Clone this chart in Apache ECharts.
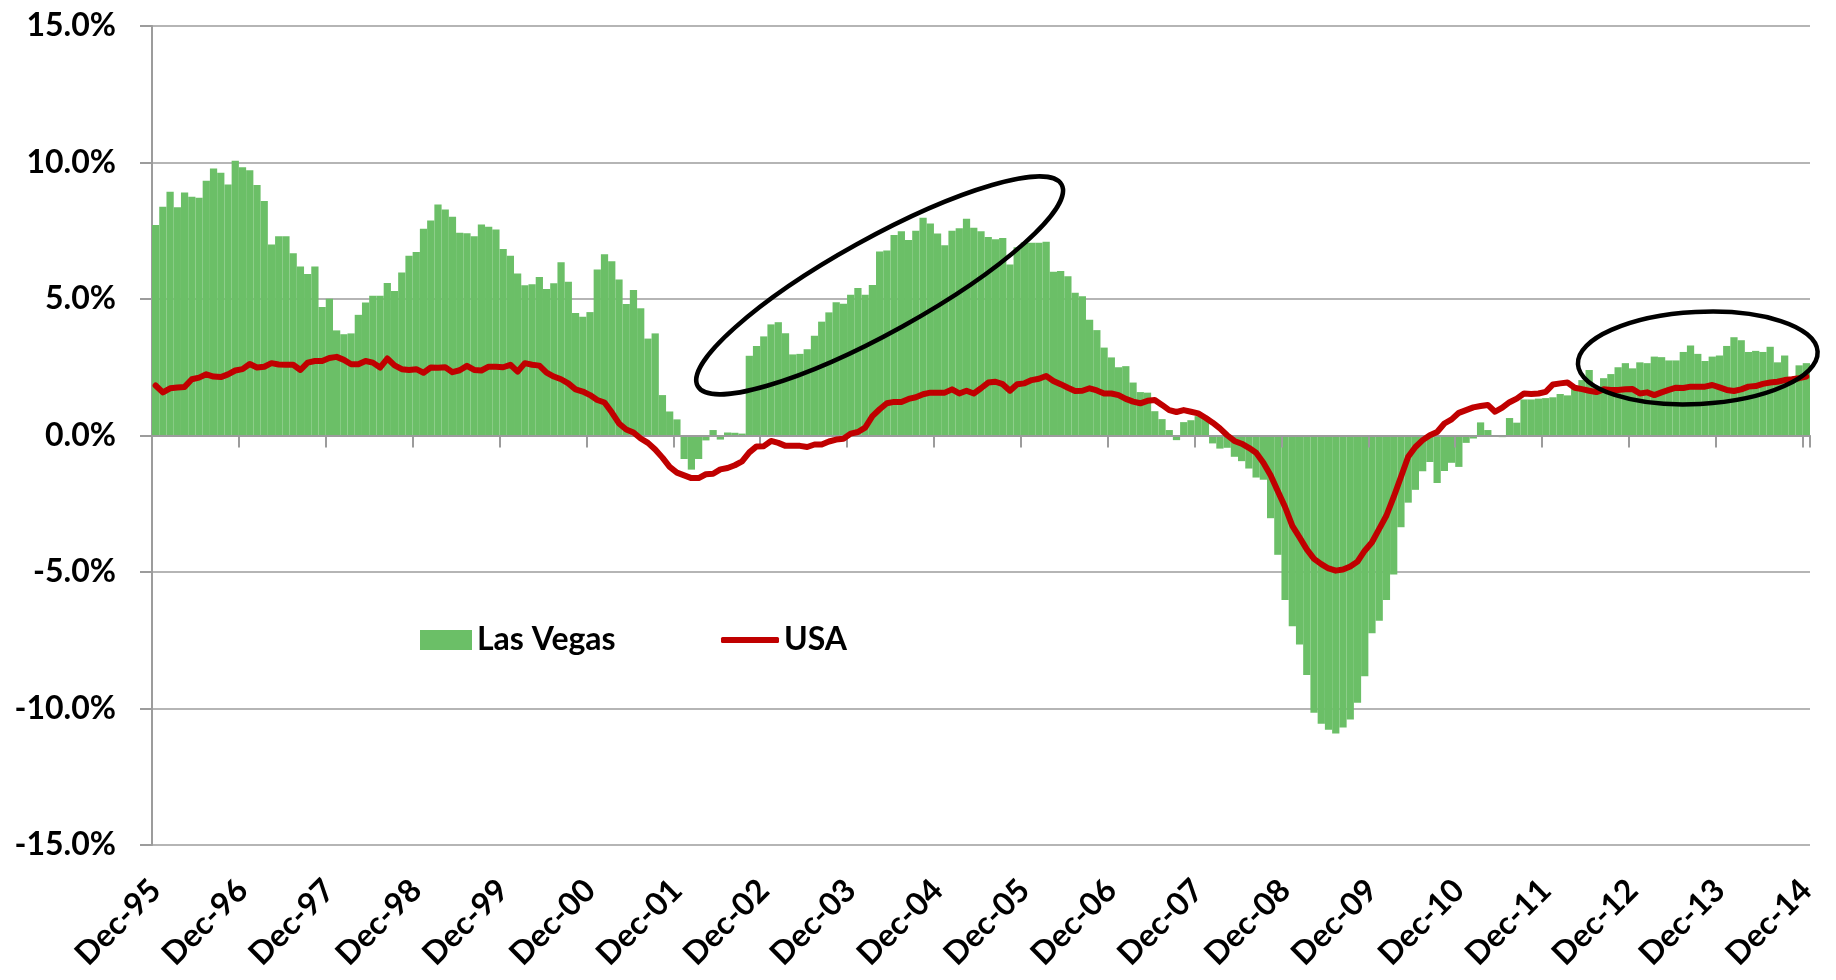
<!DOCTYPE html>
<html>
<head>
<meta charset="utf-8">
<script src="https://cdn.jsdelivr.net/npm/echarts@6/dist/echarts.min.js"></script>
<style>
html,body{margin:0;padding:0;background:#fff;}
#chart{width:1836px;height:980px;}
</style>
</head>
<body>
<div id="chart"></div>
<script>
// Month names and years used to build the monthly categories (Dec-95 .. Dec-14)
const monthNames = ['Jan','Feb','Mar','Apr','May','Jun','Jul','Aug','Sep','Oct','Nov','Dec'];
const startYear = 1995, startMonth = 11, monthCount = 229;

// Las Vegas year-over-year change (%), monthly
const lasVegas = [
 7.71,8.38,8.93,8.36,8.90,8.75,8.71,9.33,9.78,9.62,9.19,10.06,
 9.83,9.72,9.18,8.59,7.00,7.30,7.30,6.68,6.19,5.92,6.19,4.71,
 5.01,3.85,3.71,3.74,4.42,4.87,5.12,5.12,5.59,5.29,5.97,6.58,
 6.72,7.57,7.88,8.46,8.28,8.01,7.43,7.41,7.30,7.73,7.65,7.55,
 6.83,6.58,5.93,5.50,5.54,5.81,5.37,5.58,6.35,5.63,4.49,4.35,
 4.52,6.08,6.64,6.38,5.71,4.82,5.33,4.66,3.55,3.74,1.48,0.88,
 0.59,-0.86,-1.25,-0.86,-0.18,0.20,-0.15,0.11,0.10,0.07,2.92,3.28,
 3.63,4.07,4.15,3.75,2.97,2.99,3.16,3.65,4.17,4.51,4.88,4.83,
 5.16,5.40,5.16,5.51,6.74,6.78,7.34,7.48,7.16,7.50,7.98,7.77,
 7.40,6.97,7.50,7.59,7.94,7.61,7.48,7.27,7.19,7.23,6.26,6.90,
 7.07,7.06,7.06,7.10,6.00,6.03,5.83,5.23,5.10,4.24,3.86,3.22,
 2.86,2.50,2.54,1.94,1.59,1.57,0.89,0.60,0.20,-0.17,0.49,0.56,
 0.71,0.69,-0.29,-0.48,-0.45,-0.78,-0.94,-1.21,-1.54,-1.62,-3.03,-4.37,
 -6.03,-6.99,-7.66,-8.77,-10.16,-10.56,-10.78,-10.92,-10.70,-10.40,-9.79,-8.82,
 -7.24,-6.79,-6.03,-5.09,-3.36,-2.46,-1.99,-1.31,-0.97,-1.74,-1.30,-1.00,
 -1.15,-0.27,-0.11,0.48,0.20,-0.03,-0.06,0.64,0.47,1.32,1.32,1.35,
 1.37,1.40,1.52,1.47,1.76,2.03,2.40,1.75,2.10,2.25,2.50,2.65,
 2.46,2.68,2.65,2.89,2.87,2.75,2.75,3.06,3.30,2.99,2.73,2.89,
 2.93,3.28,3.60,3.49,3.06,3.10,3.06,3.25,2.68,2.93,2.13,2.57,
 2.65
];

// USA year-over-year change (%), monthly
const usa = [
 1.83,1.58,1.73,1.76,1.78,2.06,2.12,2.24,2.16,2.14,2.24,2.38,
 2.43,2.62,2.49,2.52,2.65,2.60,2.59,2.59,2.40,2.67,2.73,2.73,
 2.84,2.88,2.77,2.61,2.61,2.73,2.67,2.49,2.82,2.57,2.43,2.40,
 2.43,2.30,2.49,2.48,2.50,2.32,2.39,2.55,2.40,2.38,2.52,2.52,
 2.50,2.59,2.34,2.65,2.59,2.56,2.30,2.16,2.06,1.91,1.69,1.61,
 1.48,1.30,1.21,0.85,0.44,0.22,0.11,-0.11,-0.27,-0.51,-0.81,-1.15,
 -1.36,-1.46,-1.56,-1.56,-1.42,-1.40,-1.24,-1.19,-1.09,-0.95,-0.62,-0.40,
 -0.39,-0.20,-0.27,-0.38,-0.38,-0.38,-0.42,-0.33,-0.33,-0.22,-0.15,-0.12,
 0.07,0.13,0.29,0.71,0.96,1.18,1.23,1.23,1.34,1.40,1.51,1.57,
 1.57,1.57,1.69,1.54,1.64,1.54,1.73,1.94,1.97,1.88,1.64,1.88,
 1.91,2.03,2.08,2.18,2.00,1.88,1.75,1.63,1.64,1.73,1.65,1.54,
 1.54,1.48,1.34,1.24,1.18,1.27,1.30,1.12,0.93,0.86,0.93,0.87,
 0.81,0.65,0.47,0.26,0.01,-0.20,-0.30,-0.45,-0.63,-1.00,-1.46,-2.04,
 -2.62,-3.31,-3.73,-4.17,-4.52,-4.71,-4.87,-4.95,-4.91,-4.80,-4.62,-4.22,
 -3.91,-3.42,-2.93,-2.25,-1.52,-0.78,-0.42,-0.17,0.01,0.13,0.44,0.59,
 0.83,0.93,1.03,1.08,1.12,0.87,1.02,1.22,1.35,1.54,1.52,1.54,
 1.60,1.87,1.91,1.94,1.75,1.70,1.64,1.59,1.69,1.67,1.67,1.69,
 1.70,1.54,1.58,1.48,1.58,1.67,1.75,1.74,1.79,1.79,1.79,1.85,
 1.76,1.67,1.63,1.69,1.79,1.81,1.89,1.94,1.97,2.03,2.06,2.10,
 2.16
];

const seriesNames = ['Las Vegas', 'USA'];
const yTicks = [-15, -10, -5, 0, 5, 10, 15];

// Annotation ellipses anchored to data: [category index, value]
const ellipseAnchors = [
  {at: [100, 5.5], rx: 208, ry: 47, angleDeg: 29},
  {at: [213, 2.84], rx: 120, ry: 46, angleDeg: 3}
];

const categories = [];
for (let i = 0; i < monthCount; i++) {
  const m = (startMonth + i) % 12;
  const y = startYear + Math.floor((startMonth + i) / 12);
  categories.push(monthNames[m] + '-' + String(y % 100).padStart(2, '0'));
}

const FONT = 'Lato';
const GRAY = '#9c9c9c';
const GREEN = '#6bbf67';
const RED = '#c00000';
const legendText = {fontFamily: FONT, fontWeight: 'bold', fontSize: 32, color: '#000'};

const chart = echarts.init(document.getElementById('chart'), null, {renderer: 'canvas'});
const option = {
  animation: false,
  backgroundColor: '#ffffff',
  grid: {left: 152, right: 26, top: 26, bottom: 135, containLabel: false},
  legend: [
    {
      left: 415, top: 619, itemWidth: 52, itemHeight: 20,
      textStyle: legendText,
      data: [{name: seriesNames[0], icon: 'rect'}]
    },
    {
      left: 716, top: 619, itemWidth: 58, itemHeight: 6,
      textStyle: legendText,
      data: [{name: seriesNames[1], icon: 'roundRect', itemStyle: {color: RED}}]
    }
  ],
  xAxis: [
    {
      type: 'category', data: categories, position: 'bottom', boundaryGap: true, z: 5,
      axisLine: {show: true, onZero: true, lineStyle: {color: GRAY, width: 2}},
      axisTick: {show: true, interval: 11, length: 12, lineStyle: {color: GRAY, width: 2}},
      axisLabel: {show: false},
      splitLine: {show: false}
    },
    {
      type: 'category', data: categories, position: 'bottom', boundaryGap: true,
      axisLine: {show: false, onZero: false},
      axisTick: {show: false},
      axisLabel: {show: true, interval: 11, rotate: 45, margin: 40,
        fontFamily: FONT, fontWeight: 'bold', fontSize: 32, color: '#000'},
      splitLine: {show: false}
    }
  ],
  yAxis: {
    type: 'value', min: yTicks[0], max: yTicks[yTicks.length - 1], interval: 5,
    axisLine: {show: true, lineStyle: {color: GRAY, width: 2}},
    axisTick: {show: true, length: 12, lineStyle: {color: GRAY, width: 2}},
    axisLabel: {margin: 36, fontFamily: FONT, fontWeight: 'bold', fontSize: 32, color: '#000',
      formatter: v => v.toFixed(1) + '%'},
    splitLine: {show: true, lineStyle: {color: GRAY, width: 1.5}}
  },
  series: [
    {
      name: seriesNames[0], type: 'bar', data: lasVegas, xAxisIndex: 0,
      barCategoryGap: '0%', barGap: '0%', z: 2,
      itemStyle: {color: GREEN}
    },
    {
      name: seriesNames[1], type: 'line', data: usa, xAxisIndex: 0, z: 10,
      symbol: 'none', showSymbol: false, smooth: false,
      lineStyle: {color: RED, width: 6, join: 'round', cap: 'round'},
      itemStyle: {color: RED}
    }
  ]
};
chart.setOption(option);

const graphics = ellipseAnchors.map(e => {
  const p = chart.convertToPixel({xAxisIndex: 0, yAxisIndex: 0}, e.at);
  return {
    type: 'ellipse', x: p[0], y: p[1], rotation: e.angleDeg * Math.PI / 180, z: 100,
    shape: {cx: 0, cy: 0, rx: e.rx, ry: e.ry},
    style: {fill: 'none', stroke: '#000', lineWidth: 4.5}
  };
});
chart.setOption({graphic: graphics});
</script>
</body>
</html>
